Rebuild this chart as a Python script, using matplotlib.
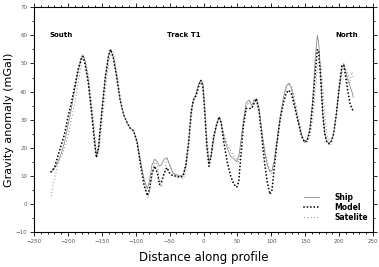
import numpy as np
import matplotlib.pyplot as plt

# distance along profile (km) shared by ship and model
dist = [-225, -220, -215, -210, -205, -200, -195, -190, -185, -180, -178, -175,
        -170, -165, -160, -158, -155, -150, -145, -140, -137, -133, -128, -123,
        -118, -113, -108, -103, -98, -93, -88, -83, -80, -76, -72, -68, -65,
        -62, -58, -54, -50, -45, -40, -35, -30, -26, -22, -18, -15, -11, -7,
        -4, -1, 2, 5, 8, 11, 15, 19, 23, 26, 30, 35, 40, 45, 49, 52, 55, 59,
        63, 67, 71, 75, 78, 82, 86, 90, 94, 98, 101, 104, 108, 113, 118, 122,
        126, 130, 135, 140, 145, 149, 153, 157, 161, 165, 168, 170, 173, 176,
        179, 182, 185, 188, 192, 196, 200, 204, 207, 210, 213, 216, 219, 221]

model = [11.5, 13, 17, 21, 25, 31, 36, 42, 48, 52, 52.5, 50,
         43, 32, 20, 16.5, 20, 33, 45, 53, 55, 52, 45, 37,
         32, 29, 27, 26, 22, 14, 7, 3, 5, 11, 13.5, 11, 7,
         8, 11, 13, 11, 10, 10, 9.5, 10, 14, 22, 33, 37, 38.5, 42,
         44, 42, 32, 20, 13.5, 17, 24, 28, 31, 29, 22, 15, 10, 7, 6, 8, 17, 28,
         34, 34, 34, 36, 37.5, 33, 24, 15, 8, 3.5, 5, 12, 21, 30, 36, 39.5,
         40.5, 39, 34, 29, 24, 22, 22.5, 26, 35, 47, 55, 54, 44, 32,
         25, 22, 21.5, 22, 25, 32, 41, 49, 49.5, 45, 40, 36, 34, 33]

ship = [11.5, 12.5, 15, 18, 22, 28, 34, 41, 47, 52.5, 53, 51,
        44, 33, 21, 17, 20, 33, 45, 53, 55, 52, 45, 37,
        32, 29, 27, 26, 22, 15, 9, 5.5, 8, 14, 16, 15, 13.5,
        14, 16, 16.5, 14, 11, 10.5, 10, 10.5, 14, 22, 33, 37, 39, 43,
        44, 43, 33, 21, 15, 17, 24, 28, 31, 29, 24, 20, 17, 16, 15, 17, 22, 30,
        36, 37, 35, 37, 37.5, 34, 26, 19, 14, 11.5, 12, 15, 22, 31, 38, 42,
        43, 41, 35, 29, 24, 22.5, 23, 27, 37, 52, 60, 57, 46, 32,
        25, 22, 22, 22, 25, 32, 41, 48, 50, 47, 44, 42, 40, 38]

sat = [3, 9, 14, 17, 20, 24, 30, 36, 43, 50, 52, 52,
       46, 36, 24, 18, 18, 28, 40, 50, 54, 54, 47, 38,
       32, 29, 27, 26, 23, 16, 9, 2, 4, 10, 15, 14, 8,
       6, 11, 16, 14, 11, 10, 10, 9, 12, 20, 30, 37, 40, 43,
       44, 43, 35, 24, 17, 16, 22, 28, 31, 30, 25, 21, 19, 17, 16, 15, 21, 29,
       35, 36, 37, 37, 36, 33, 26, 20, 15, 12, 11, 14, 21, 30, 37, 41,
       43, 42, 37, 31, 25, 22, 22, 24, 30, 40, 48, 52, 50, 42,
       32, 25, 22, 21, 24, 32, 40, 46, 49, 48, 46, 43, 47, 45]

fig = plt.figure(figsize=(3.79, 2.67), dpi=100)
ax = fig.add_axes([0.09, 0.13, 0.894, 0.843])

ax.plot(dist, ship, '-', color='0.55', lw=0.6, label='Ship')
ax.plot(dist, model, color='black', lw=1.3, linestyle=(0, (0.01, 1.9)),
        dash_capstyle='round', label='Model')
ax.plot(dist, sat, color='0.45', lw=0.8, linestyle=(0, (0.01, 3.0)),
        dash_capstyle='round', label='Satelite')

ax.set_xlim(-250, 250)
ax.set_ylim(-10, 70)
ax.set_xticks(np.arange(-250, 251, 50))
ax.set_xticks(np.arange(-250, 251, 10), minor=True)
ax.set_yticks(np.arange(-10, 71, 10))
ax.set_yticks(np.arange(-10, 71, 5), minor=True)
ax.tick_params(which='both', direction='out', top=True, right=True,
               labelsize=4, labelcolor='0.35', width=0.6, pad=2)
ax.tick_params(which='major', length=3)
ax.tick_params(which='minor', length=1.5)
for s in ax.spines.values():
    s.set_linewidth(0.8)

ax.set_xlabel('Distance along profile', fontsize=8.5, labelpad=5)
ax.set_ylabel('Gravity anomaly (mGal)', fontsize=8, labelpad=1)

ax.text(-228, 60, 'South', fontsize=5, fontweight='bold', va='center')
ax.text(-29, 60, 'Track T1', fontsize=5, fontweight='bold', va='center', ha='center')
ax.text(228, 60, 'North', fontsize=5, fontweight='bold', va='center', ha='right')

ax.legend(loc='lower right', bbox_to_anchor=(1.005, 0.015), frameon=False,
          prop={'weight': 'bold', 'size': 5.5}, handlelength=1.9,
          labelspacing=0.15, handletextpad=2.0)

fig.savefig('out.png', dpi=100)
